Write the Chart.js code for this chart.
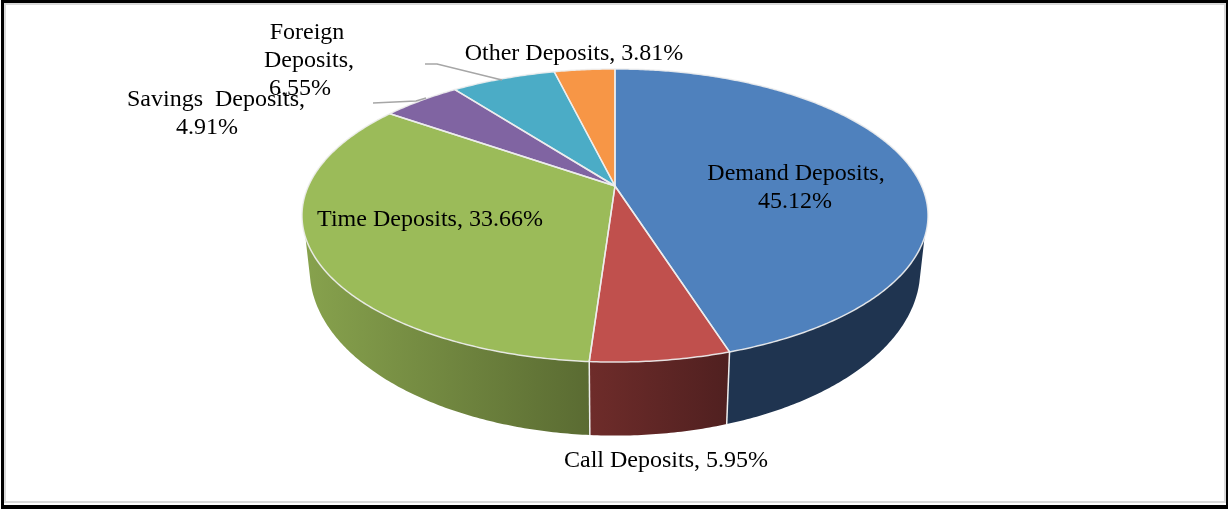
<!DOCTYPE html>
<html><head><meta charset="utf-8">
<style>
html,body{margin:0;padding:0;background:#fff;width:1228px;height:510px;overflow:hidden}
#wrap{position:absolute;left:0;top:0;width:1228px;height:510px}
</style>
<script src="https://cdn.jsdelivr.net/npm/chart.js@4"></script>
</head><body>
<div id="wrap"><canvas id="c" width="1228" height="510"></canvas></div>
<script>
const categories = ['Demand Deposits','Call Deposits','Time Deposits','Savings Deposits','Foreign Deposits','Other Deposits'];
const shares = [45.12, 5.95, 33.66, 4.91, 6.55, 3.81];
const topColors = ['#4F81BD','#C0504D','#9BBB59','#8064A2','#4BACC6','#F79646'];

// label lines: [text, centre x, baseline y]
const labelLayout = [
  [['Demand Deposits,',796,180],['45.12%',795,208]],
  [['Call Deposits, 5.95%',666,467]],
  [['Time Deposits, 33.66%',430,226]],
  [['Savings  Deposits,',216,106],['4.91%',207,134]],
  [['Foreign',307,39],['Deposits,',309,67],['6.55%',300,95]],
  [['Other Deposits, 3.81%',574,60]]
];
const leaders = [
  [[373,103],[416,101],[426,98]],
  [[425,64],[437,64],[502,80]]
];
// perspective camera for the top and bottom faces
const TOP = {cx:615, cy:186, A:306.6, B:140.6, k:0.2014};
const BOT = {cx:615, cy:236.5, A:299, B:159, k:0.2014};
const project = (f,t)=>{ // t: canvas angle from Chart.js (0 = +x, clockwise)
  const u=Math.cos(t), v=Math.sin(t), w=1-f.k*v;
  return [f.cx+f.A*u/w, f.cy+f.B*v/w];
};
const deg = d=>d*Math.PI/180-Math.PI/2;
const wallTop=[deg(109.8),deg(250.2)], wallBot=[deg(106),deg(254)];
const wallFill = (ctx,i)=>{
  if(i===0) return '#1F3450';
  if(i===1){const g=ctx.createLinearGradient(590,0,728,0);g.addColorStop(0,'#6E2C2A');g.addColorStop(1,'#502020');return g;}
  const g=ctx.createLinearGradient(305,0,590,0);g.addColorStop(0,'#87A24D');g.addColorStop(1,'#5A6B32');return g;
};
function arcPath(ctx,f,a,b,first){
  const n=Math.max(2,Math.ceil(Math.abs(b-a)/0.01));
  for(let j=0;j<=n;j++){const p=project(f,a+(b-a)*j/n);
    (first&&j===0)?ctx.moveTo(p[0],p[1]):ctx.lineTo(p[0],p[1]);}
}
const pie3d = {
  id:'pie3d',
  beforeDatasetDraw(chart,args){
    const ctx=chart.ctx, arcs=args.meta.data;
    ctx.save();
    ctx.lineJoin='round';
    // side walls
    arcs.forEach((el,i)=>{
      const ta=Math.max(el.startAngle,wallTop[0]), tb=Math.min(el.endAngle,wallTop[1]);
      const ba=Math.max(el.startAngle,wallBot[0]), bb=Math.min(el.endAngle,wallBot[1]);
      if(tb<=ta) return;
      ctx.beginPath();
      arcPath(ctx,TOP,ta,tb,true);
      arcPath(ctx,BOT,bb,ba,false);
      ctx.closePath();
      ctx.fillStyle=wallFill(ctx,i);
      ctx.fill();
    });
    // wall seams
    ctx.strokeStyle='#EDEDED'; ctx.lineWidth=1.5;
    arcs.forEach((el)=>{
      if(el.startAngle>wallTop[0]&&el.startAngle<wallTop[1]){
        const p=project(TOP,el.startAngle),q=project(BOT,el.startAngle);
        ctx.beginPath();ctx.moveTo(p[0],p[1]);ctx.lineTo(q[0],q[1]);ctx.stroke();
      }
    });
    // top face
    arcs.forEach((el)=>{
      ctx.beginPath();
      ctx.moveTo(TOP.cx,TOP.cy);
      arcPath(ctx,TOP,el.startAngle,el.endAngle,false);
      ctx.closePath();
      ctx.fillStyle=el.options.backgroundColor;
      ctx.fill();
    });
    arcs.forEach((el)=>{
      ctx.beginPath();
      ctx.moveTo(TOP.cx,TOP.cy);
      arcPath(ctx,TOP,el.startAngle,el.endAngle,false);
      ctx.closePath();
      ctx.strokeStyle='rgba(238,238,238,0.9)'; ctx.lineWidth=1.5;
      ctx.stroke();
    });
    ctx.restore();
    return false;
  },
  afterDraw(chart){
    const ctx=chart.ctx;
    ctx.save();
    ctx.strokeStyle='#A6A6A6'; ctx.lineWidth=1.5;
    leaders.forEach(l=>{ctx.beginPath();l.forEach((p,i)=>i?ctx.lineTo(p[0],p[1]):ctx.moveTo(p[0],p[1]));ctx.stroke();});
    ctx.fillStyle='#000'; ctx.textAlign='center'; ctx.textBaseline='alphabetic';
    ctx.font='24px "Liberation Serif"';
    labelLayout.forEach(ls=>ls.forEach(([t,x,y])=>ctx.fillText(t,x,y)));
    ctx.restore();
  }
};
const frame = {
  id:'frame',
  afterDraw(chart){
    const ctx=chart.ctx;
    ctx.save();
    ctx.fillStyle='#D9D9D9';
    ctx.fillRect(4,3,1222,2);ctx.fillRect(4,3,2,500);ctx.fillRect(1224,3,2,500);ctx.fillRect(4,501,1222,2);
    ctx.fillStyle='#000';
    ctx.fillRect(1,0,1227,3);ctx.fillRect(1,0,3,509);ctx.fillRect(1226,0,2,509);ctx.fillRect(1,505,1227,4);
    ctx.restore();
  }
};
new Chart(document.getElementById('c'),{
  type:'pie',
  data:{labels:categories,datasets:[{data:shares,backgroundColor:topColors,borderWidth:0}]},
  options:{responsive:false,animation:false,
    plugins:{legend:{display:false},tooltip:{enabled:false}}},
  plugins:[pie3d,frame]
});
</script>
</body></html>
